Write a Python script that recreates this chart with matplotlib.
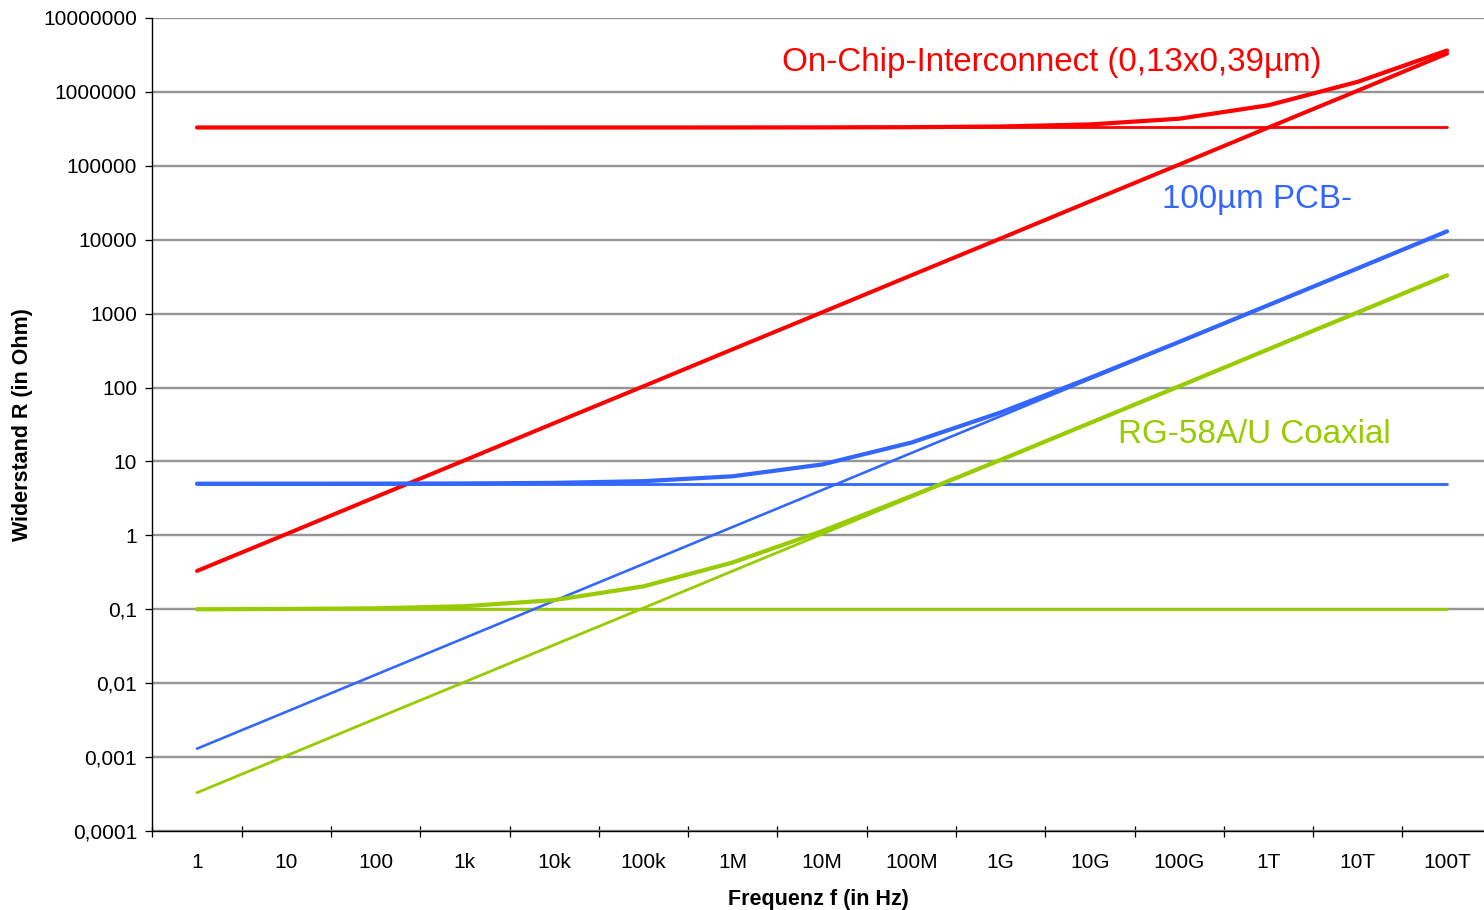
import numpy as np
import matplotlib.pyplot as plt
from matplotlib.ticker import FixedLocator

# Frequenzen (Kategorien auf der x-Achse)
freq_labels = ['1', '10', '100', '1k', '10k', '100k', '1M', '10M', '100M',
               '1G', '10G', '100G', '1T', '10T', '100T']

# On-Chip-Interconnect: Gleichstromwiderstand, Skin-Effekt, gesamt
chip_dc = [330000] * 15
chip_skin = [0.33, 1.04, 3.3, 10.4, 33, 104, 330, 1040, 3300, 10400,
             33000, 104000, 330000, 1040000, 3300000]
chip_total = [330000, 330001, 330003, 330010, 330033, 330104, 330330, 331040,
              333300, 340400, 363000, 434000, 660000, 1370000, 3630000]

# 100um PCB-Leitung
pcb_dc = [5.0] * 15
pcb_skin = [0.0013, 0.0041, 0.013, 0.041, 0.13, 0.41, 1.3, 4.1, 13, 41,
            130, 410, 1300, 4100, 13000]
pcb_total = [5.0, 5.004, 5.013, 5.04, 5.13, 5.41, 6.3, 9.1, 18, 46,
             135, 415, 1305, 4105, 13005]

# RG-58A/U Koaxialkabel
coax_dc = [0.1] * 15
coax_skin = [0.00033, 0.00104, 0.0033, 0.0104, 0.033, 0.104, 0.33, 1.04, 3.3,
             10.4, 33, 104, 330, 1040, 3300]
coax_total = [0.1, 0.101, 0.103, 0.11, 0.133, 0.204, 0.43, 1.14, 3.4, 10.5,
              33.1, 104, 330, 1040, 3300]

ytick_vals = [1e-4, 1e-3, 1e-2, 1e-1, 1, 10, 100, 1e3, 1e4, 1e5, 1e6, 1e7]
ytick_labels = ['0,0001', '0,001', '0,01', '0,1', '1', '10', '100', '1000',
                '10000', '100000', '1000000', '10000000']

RED = '#FF0000'
BLUE = '#3366FF'
GREEN = '#99CC00'

plt.rcParams['font.family'] = ['Liberation Sans', 'DejaVu Sans']

fig = plt.figure(figsize=(14.84, 9.10), dpi=100)
ax = fig.add_axes([152 / 1484, 79 / 910, 1332 / 1484, 813 / 910])

x = np.arange(len(freq_labels))
px = 0.72  # Punkte pro Pixel bei 100 dpi

for dc, skin, total, col, wskin in [
        (coax_dc, coax_skin, coax_total, GREEN, 2.8),
        (pcb_dc, pcb_skin, pcb_total, BLUE, 2.6),
        (chip_dc, chip_skin, chip_total, RED, 4.0)]:
    ax.plot(x, dc, color=col, lw=2.8 * px, solid_capstyle='round', zorder=3)
    ax.plot(x, skin, color=col, lw=wskin * px, solid_capstyle='round', zorder=3)
    ax.plot(x, total, color=col, lw=4.2 * px, solid_capstyle='round', zorder=4)

ax.set_yscale('log')
ax.set_ylim(1e-4, 1e7)
ax.set_xlim(-0.504, (1484 - 197) / 89.29)

ax.yaxis.set_major_locator(FixedLocator(ytick_vals))
ax.yaxis.set_minor_locator(FixedLocator([]))
ax.set_yticklabels(ytick_labels)
ax.tick_params(axis='y', which='major', direction='out', length=7 * px,
               width=1.3 * px, pad=8 * px, labelsize=15, color='black')

ax.set_xticks(x)
ax.set_xticklabels(freq_labels)
ax.set_xticks(np.arange(-0.5, 14.0, 1.0), minor=True)
ax.tick_params(axis='x', which='major', length=0, pad=22 * px, labelsize=15)
ax.tick_params(axis='x', which='minor', direction='inout', length=11 * px,
               width=1.3 * px, color='black')

ax.grid(axis='y', which='major', color='#969696', lw=2.4 * px, zorder=1)
ax.set_axisbelow(True)

for side in ['top', 'right']:
    ax.spines[side].set_visible(False)
for side in ['left', 'bottom']:
    ax.spines[side].set_linewidth(1.4 * px)
    ax.spines[side].set_color('black')
    ax.spines[side].set_zorder(5)

ax.set_xlabel('Frequenz f (in Hz)', fontsize=15.5, fontweight='bold', labelpad=12)
ax.set_ylabel('Widerstand R (in Ohm)', fontsize=15.5, fontweight='bold', labelpad=7)

ax.text(6.55, 10 ** 6.40, 'On-Chip-Interconnect (0,13x0,39µm)', color=RED,
        fontsize=23.9, va='center', ha='left')
ax.text(10.81, 10 ** 4.55, '100µm PCB-', color=BLUE,
        fontsize=23.9, va='center', ha='left')
ax.text(10.31, 10 ** 1.37, 'RG-58A/U Coaxial', color=GREEN,
        fontsize=23.9, va='center', ha='left')

fig.savefig('out.png', dpi=100)
